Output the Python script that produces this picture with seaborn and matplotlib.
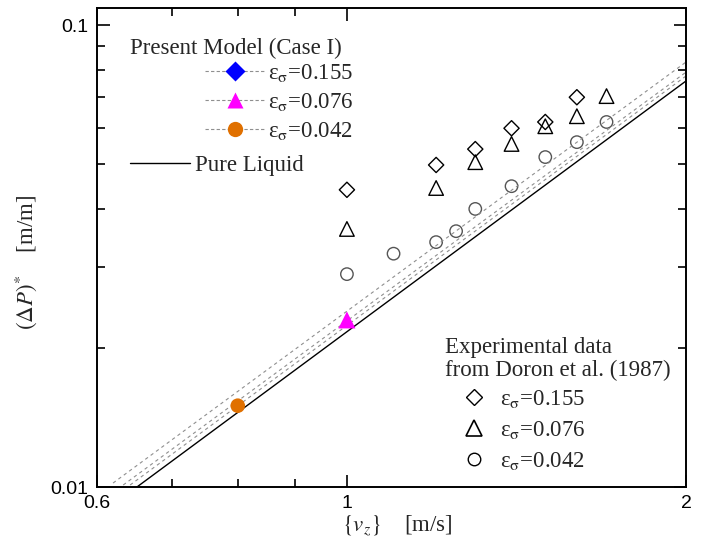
import matplotlib
matplotlib.use('Agg')
import matplotlib.pyplot as plt
import matplotlib.ticker as mticker
from matplotlib.lines import Line2D
import seaborn as sns

# Experimental data, Doron et al. (1987)
v_exp_155 = [1.0, 1.2, 1.3, 1.4, 1.5, 1.6]
dp_exp_155 = [0.0440, 0.0498, 0.0539, 0.0598, 0.0617, 0.0698]
v_exp_076 = [1.0, 1.2, 1.3, 1.4, 1.5, 1.6, 1.7]
dp_exp_076 = [0.0362, 0.0444, 0.0505, 0.0553, 0.0604, 0.0635, 0.0702]
v_exp_042 = [1.0, 1.1, 1.2, 1.25, 1.3, 1.4, 1.5, 1.6, 1.7]
dp_exp_042 = [0.0289, 0.0320, 0.0339, 0.0358, 0.0400, 0.0448, 0.0518, 0.0558, 0.0617]

# Present model (Case I) points
v_mod_076 = [1.0]
dp_mod_076 = [0.0230]
v_mod_042 = [0.8]
dp_mod_042 = [0.0150]

# model curves (straight on log-log axes)
v_line_155 = [0.620, 2.0]
dp_line_155 = [0.0102, 0.0832]
v_line_076 = [0.633, 2.0]
dp_line_076 = [0.0101, 0.0791]
v_line_042 = [0.642, 2.0]
dp_line_042 = [0.0101, 0.0776]
v_liquid = [0.651, 2.0]
dp_liquid = [0.0100, 0.0757]

eps_labels = ['0.155', '0.076', '0.042']

sns.set_style('ticks')
plt.rcParams['font.family'] = ['Liberation Serif', 'DejaVu Serif']
plt.rcParams['mathtext.fontset'] = 'stix'

fig = plt.figure(figsize=(7.05, 5.45), dpi=100)
ax = fig.add_axes([0.1376, 0.1064, 0.8355, 0.8789])

dash_kw = dict(color='#8f8f8f', linestyle=(0, (3, 3)), linewidth=0.8)
for vx, dy in [(v_line_155, dp_line_155), (v_line_076, dp_line_076), (v_line_042, dp_line_042)]:
    sns.lineplot(x=vx, y=dy, ax=ax, **dash_kw)
sns.lineplot(x=v_liquid, y=dp_liquid, ax=ax, color='black', linewidth=1.0)

sns.scatterplot(x=v_mod_076, y=dp_mod_076, ax=ax, marker='^', s=150, color='#ff00ff', edgecolor='none', zorder=5)
sns.scatterplot(x=v_mod_042, y=dp_mod_042, ax=ax, marker='o', s=110, color='#e07000', edgecolor='none', zorder=5)

sns.scatterplot(x=v_exp_155, y=dp_exp_155, ax=ax, marker='D', s=60, facecolors='none', edgecolor='black', linewidth=1.0)
sns.scatterplot(x=v_exp_076, y=dp_exp_076, ax=ax, marker='^', s=110, facecolors='none', edgecolor='black', linewidth=1.0)
sns.scatterplot(x=v_exp_042, y=dp_exp_042, ax=ax, marker='o', s=80, facecolors='none', edgecolor='#555555', linewidth=1.0)

ax.set_xscale('log')
ax.set_yscale('log')
ax.set_xlim(0.6, 2.0)
ax.set_ylim(0.01, 0.1089)

ax.xaxis.set_major_locator(mticker.FixedLocator([0.6, 1.0, 2.0]))
ax.xaxis.set_minor_locator(mticker.FixedLocator([0.7, 0.8, 0.9]))
ax.xaxis.set_major_formatter(mticker.FixedFormatter(['0.6', '1', '2']))
ax.xaxis.set_minor_formatter(mticker.NullFormatter())
ax.yaxis.set_major_locator(mticker.FixedLocator([0.01, 0.1]))
ax.yaxis.set_minor_locator(mticker.FixedLocator([0.02, 0.03, 0.04, 0.05, 0.06, 0.07, 0.08, 0.09]))
ax.yaxis.set_major_formatter(mticker.FixedFormatter(['0.01', '0.1']))
ax.yaxis.set_minor_formatter(mticker.NullFormatter())

ax.tick_params(which='both', direction='in', top=True, right=True, width=1.2, colors='black')
ax.tick_params(which='major', length=9, pad=6)
ax.tick_params(which='minor', length=6)
for lab in ax.get_xticklabels() + ax.get_yticklabels():
    lab.set_family(['Liberation Sans', 'DejaVu Sans'])
    lab.set_fontsize(14)
for sp in ax.spines.values():
    sp.set_linewidth(1.4)
    sp.set_color('black')

ax.set_xlabel(r'$\{v_z\}$    [m/s]', fontsize=16.5)
ax.set_ylabel(r'$(\Delta P)^{*}$    [m/m]', fontsize=16.5)
ax.xaxis.set_label_coords(0.51, -0.056)
ax.yaxis.set_label_coords(-0.098, 0.47)

# legend: present model
ax.text(130 / 705, 1 - 48 / 545, 'Present Model (Case I)', transform=fig.transFigure,
        fontsize=16.5, va='center', ha='left')
mod_colors = ['#0000ff', '#ff00ff', '#e07000']
mod_markers = ['D', '^', 'o']
mod_sizes = [10, 12, 11]
mod_handles = [Line2D([], [], color='#8f8f8f', linestyle=(0, (3, 2)), linewidth=0.8,
                      marker=m, markersize=ms, markerfacecolor=c, markeredgecolor='none')
               for m, c, ms in zip(mod_markers, mod_colors, mod_sizes)]
mod_labels = [r'ε$_{\mathrm{σ}}$=' + e for e in eps_labels]
leg1 = fig.legend(mod_handles, mod_labels, loc='upper left', bbox_to_anchor=(205 / 705, 1 - 62 / 545),
                  frameon=False, fontsize=16.5, handlelength=2.6, handletextpad=0.15,
                  borderpad=0, borderaxespad=0, labelspacing=0.3)
liq_handle = [Line2D([], [], color='black', linewidth=1.0)]
leg2 = fig.legend(liq_handle, ['Pure Liquid'], loc='upper left', bbox_to_anchor=(130 / 705, 1 - 155 / 545),
                  frameon=False, fontsize=16.5, handlelength=2.6, handletextpad=0.25,
                  borderpad=0, borderaxespad=0)

# legend: experimental data
ax.text(445 / 705, 1 - 359 / 545, 'Experimental data\nfrom Doron et al. (1987)', transform=fig.transFigure,
        fontsize=16.5, va='center', ha='left', linespacing=1.15)
exp_handles = [Line2D([], [], linestyle='none', marker='D', markersize=8, markerfacecolor='none',
                      markeredgecolor='black', markeredgewidth=1.0),
               Line2D([], [], linestyle='none', marker='^', markersize=11, markerfacecolor='none',
                      markeredgecolor='black', markeredgewidth=1.2),
               Line2D([], [], linestyle='none', marker='o', markersize=9, markerfacecolor='none',
                      markeredgecolor='black', markeredgewidth=1.0)]
leg3 = fig.legend(exp_handles, mod_labels, loc='upper left', bbox_to_anchor=(460 / 705, 1 - 388 / 545),
                  frameon=False, fontsize=16.5, handlelength=1.2, handletextpad=0.55,
                  borderpad=0, borderaxespad=0, labelspacing=0.4)

fig.savefig('out.png', dpi=100)
